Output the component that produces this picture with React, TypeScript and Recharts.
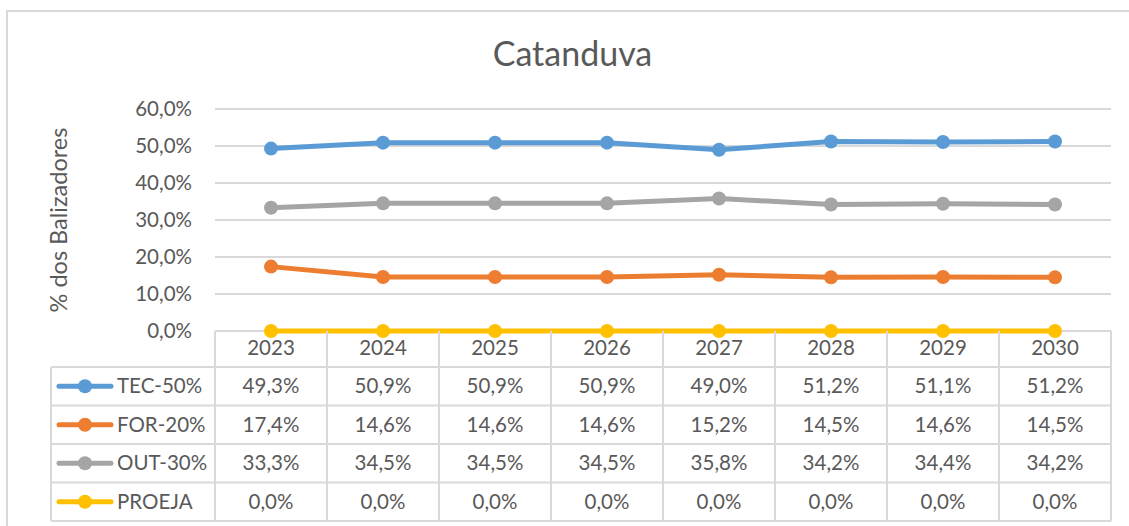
import React from 'react';
import { LineChart, Line, XAxis, YAxis, CartesianGrid } from 'recharts';

const years = ['2023', '2024', '2025', '2026', '2027', '2028', '2029', '2030'];
const tec = [0.493, 0.509, 0.509, 0.509, 0.49, 0.512, 0.511, 0.512];
const form = [0.174, 0.146, 0.146, 0.146, 0.152, 0.145, 0.146, 0.145];
const out = [0.333, 0.345, 0.345, 0.345, 0.358, 0.342, 0.344, 0.342];
const proeja = [0, 0, 0, 0, 0, 0, 0, 0];
const yTicks = [0, 0.1, 0.2, 0.3, 0.4, 0.5, 0.6];

const series = [
  { key: 'tec', name: 'TEC-50%', values: tec, color: '#5B9BD5' },
  { key: 'for', name: 'FOR-20%', values: form, color: '#ED7D31' },
  { key: 'out', name: 'OUT-30%', values: out, color: '#A5A5A5' },
  { key: 'proeja', name: 'PROEJA', values: proeja, color: '#FFC000' },
];

const data = years.map((year, i) => {
  const row: Record<string, string | number> = { year };
  series.forEach(s => { row[s.key] = s.values[i]; });
  return row;
});

const pct = (v: number) => (v * 100).toFixed(1).replace('.', ',') + '%';

const W = 1129;
const H = 526;
const plotLeft = 215;
const plotRight = 1111;
const plotTop = 109;
const plotBottom = 331;
const colW = (plotRight - plotLeft) / years.length;
const legendLeft = 51;
const headerBottom = 367;
const rowH = 38.5;
const font = 'Lato, "Open Sans", sans-serif';
const fs = 20.5;
const textColor = '#595959';
const gridColor = '#D9D9D9';

const App: React.FC = () => {
  const tableBottom = headerBottom + rowH * series.length;
  return (
    <div style={{ position: 'absolute', left: 0, top: 0, width: W, height: H, background: '#fff', overflow: 'hidden', fontFamily: font }}>
      <div style={{ position: 'absolute', left: 6, top: 10, width: W, height: H, borderLeft: '2px solid #D9D9D9', borderTop: '2px solid #D9D9D9' }} />
      <div style={{ position: 'absolute', left: 0, top: 32, width: 1145, textAlign: 'center', fontSize: 34, color: textColor }}>
        Catanduva
      </div>
      <div style={{ position: 'absolute', left: 58, top: 220, width: 0, height: 0 }}>
        <div style={{ position: 'absolute', transform: 'translate(-50%, -50%) rotate(-90deg)', whiteSpace: 'nowrap', fontSize: 23.5, color: textColor }}>
          % dos Balizadores
        </div>
      </div>
      <div style={{ position: 'absolute', left: 0, top: 0 }}>
        <LineChart
          width={W}
          height={H}
          data={data}
          margin={{ top: plotTop, left: plotLeft - 60, right: W - plotRight, bottom: H - plotBottom - 40 }}
        >
          <CartesianGrid vertical={false} stroke={gridColor} strokeWidth={2} />
          <XAxis
            dataKey="year"
            height={40}
            axisLine={false}
            tickLine={false}
            tickSize={0}
            tickMargin={9}
            padding={{ left: colW / 2, right: colW / 2 }}
            tick={{ fill: textColor, fontSize: fs, fontFamily: font }}
            interval={0}
          />
          <YAxis
            width={60}
            domain={[0, 0.6]}
            ticks={yTicks}
            tickFormatter={pct}
            axisLine={false}
            tickLine={false}
            tickSize={0}
            tickMargin={23}
            tick={{ fill: textColor, fontSize: fs, fontFamily: font }}
          />
          {series.map(s => (
            <Line
              key={s.key}
              dataKey={s.key}
              name={s.name}
              stroke={s.color}
              strokeWidth={5}
              dot={{ r: 7, fill: s.color, stroke: s.color, strokeWidth: 0 }}
              isAnimationActive={false}
            />
          ))}
        </LineChart>
      </div>
      <svg width={W} height={H} style={{ position: 'absolute', left: 0, top: 0, pointerEvents: 'none' }}>
        {years.map((y, i) => (
          <line key={'v' + y} x1={plotLeft + colW * i} x2={plotLeft + colW * i} y1={plotBottom} y2={tableBottom} stroke={gridColor} strokeWidth={2} />
        ))}
        <line x1={plotRight} x2={plotRight} y1={plotBottom} y2={tableBottom} stroke={gridColor} strokeWidth={2} />
        <line x1={legendLeft} x2={legendLeft} y1={headerBottom} y2={tableBottom} stroke={gridColor} strokeWidth={2} />
        {series.map((s, r) => (
          <line key={'h' + s.key} x1={legendLeft} x2={plotRight} y1={headerBottom + rowH * r} y2={headerBottom + rowH * r} stroke={gridColor} strokeWidth={2} />
        ))}
        <line x1={legendLeft} x2={plotRight} y1={tableBottom} y2={tableBottom} stroke={gridColor} strokeWidth={2} />
        {series.map((s, r) => {
          const cy = headerBottom + rowH * r + rowH / 2;
          return (
            <g key={'r' + s.key}>
              <line x1={59} x2={111} y1={cy} y2={cy} stroke={s.color} strokeWidth={5} strokeLinecap="round" />
              <circle cx={85} cy={cy} r={7} fill={s.color} />
              <text x={117} y={cy} dy="0.35em" fill={textColor} fontSize={fs} fontFamily={font}>{s.name}</text>
              {s.values.map((v, i) => (
                <text key={i} x={plotLeft + colW * (i + 0.5)} y={cy} dy="0.35em" textAnchor="middle" fill={textColor} fontSize={fs} fontFamily={font}>
                  {pct(v)}
                </text>
              ))}
            </g>
          );
        })}
      </svg>
    </div>
  );
};

export default App;
